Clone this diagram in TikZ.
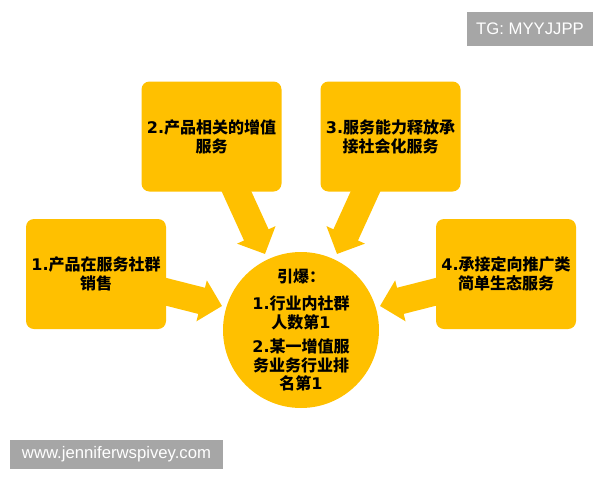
\documentclass[tikz,border=0pt]{standalone}
\usepackage{fontspec}
\usetikzlibrary{arrows.meta,backgrounds}
\newfontfamily\cjk{Noto Sans CJK SC}
\newfontfamily\dgfont{DejaVu Sans}
\newfontfamily\wmfont{Liberation Sans}
\newcommand{\dg}[1]{{\dgfont\bfseries #1}}
\definecolor{gold}{HTML}{FFC000}
\definecolor{wmgray}{HTML}{A6A6A6}
\tikzset{
  box/.style={fill=gold, rounded corners=8pt, minimum width=140pt, minimum height=110pt,
    align=center, font=\cjk\bfseries\fontsize{16}{19}\selectfont, text=black, inner sep=2pt},
  hub/.style={circle, fill=gold, minimum size=148pt, align=center, inner sep=0pt,
    font=\cjk\bfseries\fontsize{16}{18.5}\selectfont, text=black},
  blockarrow/.style={draw=gold, line width=27pt, -{Triangle[width=41pt,length=21pt]}},
  wm/.style={fill=wmgray, text=white, font=\wmfont\fontsize{16.7}{18}\selectfont, inner sep=0pt}
}
\begin{document}
\begin{tikzpicture}[x=1pt,y=-1pt]
\useasboundingbox (0,0) rectangle (600,480);
\node[box] (b1) at (96,274) {\dg{1.}产品在服务社群\\销售};
\node[box] (b2) at (211.5,136.5) {\dg{2.}产品相关的增值\\服务};
\node[box] (b3) at (390.5,136.5) {\dg{3.}服务能力释放承\\接社会化服务};
\node[box] (b4) at (506,274) {\dg{4.}承接定向推广类\\简单生态服务};
\node[hub] (c) at (301,330) {引爆：\\[9pt]\dg{1.}行业内社群\\人数第\dg{1}\\[6pt]\dg{2.}某一增值服\\务业务行业排\\名第\dg{1}};
\coordinate (t1) at (222,306);
\coordinate (t2) at (265,254);
\coordinate (t3) at (337,254);
\coordinate (t4) at (380,306);
\begin{pgfonlayer}{background}
\draw[blockarrow] (b1.center) -- (t1);
\draw[blockarrow] (b2.center) -- (t2);
\draw[blockarrow] (b3.center) -- (t3);
\draw[blockarrow] (b4.center) -- (t4);
\end{pgfonlayer}
\node[wm, minimum width=126pt, minimum height=34pt] (tg) at (530,29) {TG: MYYJJPP};
\node[wm, minimum width=213pt, minimum height=29pt] (site) at (116.5,454.5) {www.jenniferwspivey.com};
\end{tikzpicture}
\end{document}
